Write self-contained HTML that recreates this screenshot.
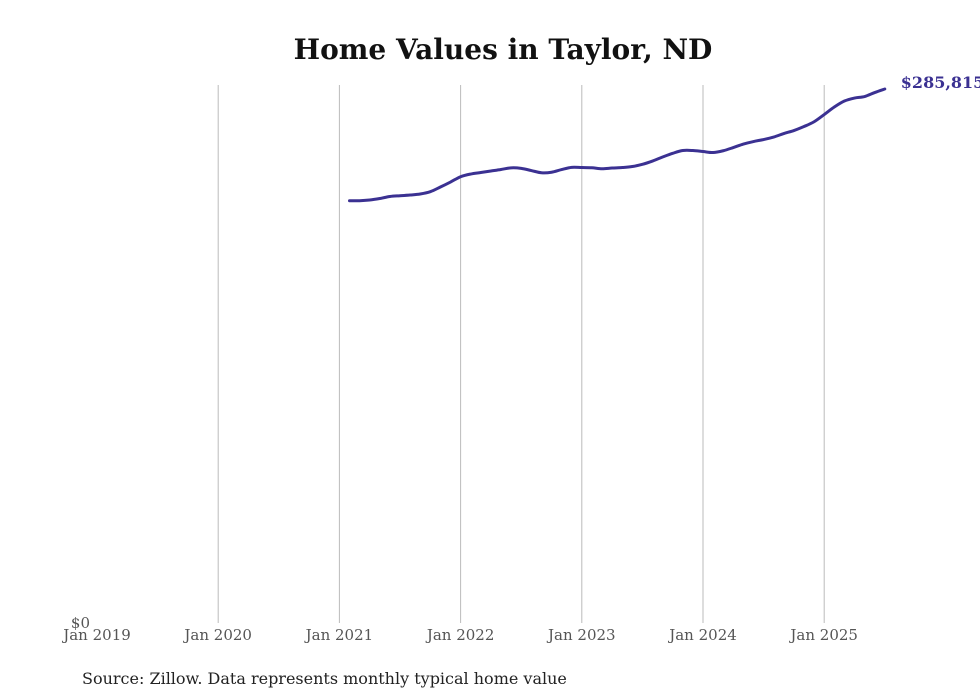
<!DOCTYPE html>
<html><head><meta charset="utf-8"><style>
html,body{margin:0;padding:0;background:#fff;}
svg{display:block;font-family:"DejaVu Serif","Liberation Serif",serif;}
</style></head><body>
<svg id="chart" width="980" height="699" viewBox="0 0 980 699">
<text x="503" y="59" text-anchor="middle" font-size="28" font-weight="bold" fill="#111">Home Values in Taylor, ND</text>
<g id="grid"></g>
<g id="xticks"></g>
<text x="90" y="628" text-anchor="end" font-size="15" fill="#555">$0</text>
<path id="line" fill="none" stroke="#3b3192" stroke-width="3" stroke-linejoin="round" stroke-linecap="round"></path>
<text id="endlabel" font-size="16" font-weight="bold" fill="#3b3192"></text>
<text x="82" y="684" font-size="16" fill="#222">Source: Zillow. Data represents monthly typical home value</text>
</svg>
<script>
const tickLabels = ["Jan 2019","Jan 2020","Jan 2021","Jan 2022","Jan 2023","Jan 2024","Jan 2025"];
const startMonthIndex = 25; // months since Jan 2019 (Feb 2021)
const values = [226237,226237,226610,227410,228476,228903,229276,229809,231036,233542,236208,239034,240473,241273,242073,242873,243779,243512,242339,241166,241432,242873,244046,243939,243833,243300,243673,243939,244473,245646,247405,249538,251511,253004,253004,252471,251938,252897,254604,256470,257803,258869,260202,262068,263668,265800,268360,272199,276198,279397,280997,281797,283930,285815];
const x = m => 97 + m * (121.2/12);
const y = v => 625 - v * (536/285815);
const NS = "http://www.w3.org/2000/svg";
const grid = document.getElementById('grid'), xt = document.getElementById('xticks');
tickLabels.forEach((t,i)=>{
  const px = x(i*12);
  if(i>0){
    const l=document.createElementNS(NS,'line');
    
    
    l.setAttribute('x1',px);l.setAttribute('x2',px);l.setAttribute('y1',85);l.setAttribute('y2',623);
    l.setAttribute('stroke','#bbb');l.setAttribute('stroke-width','1');
    grid.appendChild(l);
  }
  const tx=document.createElementNS(NS,'text');
  
  
  tx.setAttribute('x',px);tx.setAttribute('y',640);tx.setAttribute('text-anchor','middle');
  tx.setAttribute('font-size','15');tx.setAttribute('fill','#555');
  tx.textContent=t;xt.appendChild(tx);
});
const pts = values.map((v,i)=>[x(startMonthIndex+i), y(v)]);
let d = "M"+pts[0][0]+","+pts[0][1];
for(let i=0;i<pts.length-1;i++){
  const p0=pts[Math.max(0,i-1)],p1=pts[i],p2=pts[i+1],p3=pts[Math.min(pts.length-1,i+2)];
  const c1=[p1[0]+(p2[0]-p0[0])/6,p1[1]+(p2[1]-p0[1])/6];
  const c2=[p2[0]-(p3[0]-p1[0])/6,p2[1]-(p3[1]-p1[1])/6];
  d+=` C${c1[0]},${c1[1]} ${c2[0]},${c2[1]} ${p2[0]},${p2[1]}`;
}
document.getElementById('line').setAttribute('d',d);
const last = pts[pts.length-1];
const el = document.getElementById('endlabel');
el.setAttribute('x', last[0]+16);
el.setAttribute('y', last[1]-1);
el.textContent = "$" + values[values.length-1].toLocaleString('en-US');
</script>
</body></html>
